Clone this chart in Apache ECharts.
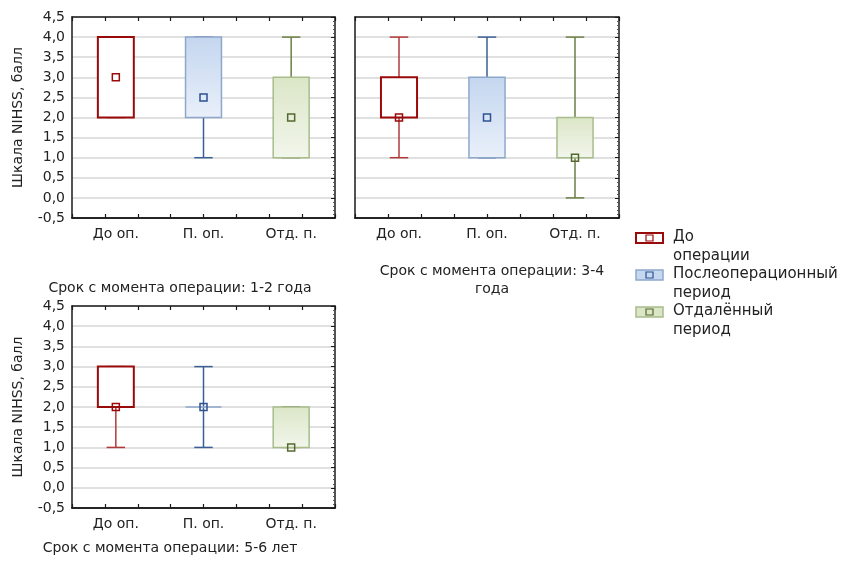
<!DOCTYPE html>
<html>
<head>
<meta charset="utf-8">
<script src="https://cdn.jsdelivr.net/npm/echarts@6/dist/echarts.min.js"></script>
<style>
  html, body { margin: 0; padding: 0; background: #fff; }
  #chart { width: 858px; height: 564px; }
</style>
</head>
<body>
<div id="chart"></div>
<script>
// категории и значения: [min, q1, медиана, q3, max]
var categories = ['До оп.', 'П. оп.', 'Отд. п.'];
var box12 = [[2, 2, 3, 4, 4], [1, 2, 2.5, 4, 4], [1, 1, 2, 3, 4]];
var box34 = [[1, 2, 2, 3, 4], [1, 1, 2, 3, 4], [0, 1, 1, 2, 4]];
var box56 = [[1, 2, 2, 3, 3], [1, 2, 2, 2, 3], [1, 1, 1, 2, 2]];
var titles = ['Срок с момента операции: 1-2 года', 'Срок с момента операции: 3-4\nгода', 'Срок с момента операции: 5-6 лет'];
var legendNames = ['До\nоперации', 'Послеоперационный\nпериод', 'Отдалённый\nпериод'];

var FONT = 'DejaVu Sans';

// стили для групп
var styles = [
  { border: '#990a0a', borderW: 2, fill: '#ffffff', whisker: '#b03a3a', mark: '#990a0a' },
  { border: '#8ea8cc', borderW: 1.5,
    fill: { type: 'linear', x: 0, y: 0, x2: 0, y2: 1, colorStops: [{ offset: 0, color: '#c4d6ef' }, { offset: 1, color: '#e9f0fa' }] },
    whisker: '#3a5f94', mark: '#2c5290' },
  { border: '#a8bc8c', borderW: 1.5,
    fill: { type: 'linear', x: 0, y: 0, x2: 0, y2: 1, colorStops: [{ offset: 0, color: '#dbe6c7' }, { offset: 1, color: '#f2f6ec' }] },
    whisker: '#6b7f45', mark: '#54692c' }
];

var grids = [
  { left: 72, top: 17, width: 263, height: 201 },
  { left: 355, top: 17, width: 264, height: 201 },
  { left: 72, top: 306, width: 263, height: 202 }
];
var boxes = [box12, box34, box56];

function renderBox(params, api) {
  var i = api.value(0);
  var s = styles[i];
  var xc = api.coord([i, 0])[0];
  var yMin = api.coord([i, api.value(1)])[1];
  var yQ1 = api.coord([i, api.value(2)])[1];
  var yMed = api.coord([i, api.value(3)])[1];
  var yQ3 = api.coord([i, api.value(4)])[1];
  var yMax = api.coord([i, api.value(5)])[1];
  var band = api.size([1, 0])[0];
  var bw = band * 0.41, cw = band * 0.21;
  var lineStyle = { stroke: s.whisker, lineWidth: 1.5 };
  return {
    type: 'group',
    children: [
      { type: 'line', shape: { x1: xc, y1: yMin, x2: xc, y2: yMax }, style: lineStyle },
      { type: 'line', shape: { x1: xc - cw / 2, y1: yMin, x2: xc + cw / 2, y2: yMin }, style: lineStyle },
      { type: 'line', shape: { x1: xc - cw / 2, y1: yMax, x2: xc + cw / 2, y2: yMax }, style: lineStyle },
      { type: 'rect', shape: { x: xc - bw / 2, y: yQ3, width: bw, height: yQ1 - yQ3 },
        style: { fill: s.fill, stroke: s.border, lineWidth: s.borderW } },
      { type: 'line', shape: { x1: xc, y1: yQ3, x2: xc, y2: yQ1 }, invisible: yQ1 !== yQ3, style: lineStyle },
      { type: 'rect', shape: { x: xc - 3.5, y: yMed - 3.5, width: 7, height: 7 },
        style: { fill: 'none', stroke: s.mark, lineWidth: 1.5 } }
    ]
  };
}

// ось-рамка со штрихами (шаг 1/8 ширины)
function frameAxis(k, pos) {
  return {
    type: 'value', gridIndex: k, min: 0, max: 8, interval: 1, position: pos,
    axisLine: { show: true, onZero: false, lineStyle: { color: '#1a1a1a', width: 1.5 } },
    axisTick: { show: true, inside: true, length: 4, lineStyle: { color: '#1a1a1a', width: 1.2 } },
    axisLabel: { show: false },
    splitLine: { show: false }
  };
}

var xAxes = [], yAxes = [], series = [];
grids.forEach(function (g, k) {
  // основная ось категорий
  xAxes.push({
    type: 'category', gridIndex: k, data: categories, position: 'bottom',
    axisLine: { show: true, onZero: false, lineStyle: { color: '#1a1a1a', width: 1.5 } },
    axisTick: { show: false },
    axisLabel: { fontFamily: FONT, fontSize: 14, color: '#222', margin: 9 }
  });
  xAxes.push(frameAxis(k, 'bottom'));
  xAxes.push(frameAxis(k, 'top'));
  yAxes.push({
    type: 'value', gridIndex: k, min: -0.5, max: 4.5, interval: 0.5, position: 'left',
    name: k === 1 ? '' : 'Шкала NIHSS, балл', nameLocation: 'middle', nameGap: 47,
    nameTextStyle: { fontFamily: FONT, fontSize: 14, color: '#222' },
    axisLine: { show: true, onZero: false, lineStyle: { color: '#1a1a1a', width: 1.5 } },
    axisTick: { show: false },
    axisLabel: {
      show: k !== 1, fontFamily: FONT, fontSize: 14, color: '#222', margin: 7,
      formatter: function (v) { return v.toFixed(1).replace('.', ','); }
    },
    splitLine: { show: true, lineStyle: { color: '#d6d6d6', width: 1.5 } }
  });
  // правая рамка
  yAxes.push({
    type: 'value', gridIndex: k, min: -0.5, max: 4.5, interval: 0.5, position: 'right',
    axisLine: { show: true, onZero: false, lineStyle: { color: '#1a1a1a', width: 1.5 } },
    axisTick: { show: true, inside: true, length: 4, lineStyle: { color: '#1a1a1a' } },
    minorTick: { show: true, splitNumber: 5, length: 2, lineStyle: { color: '#555' } },
    axisLabel: { show: false },
    splitLine: { show: false }
  });
  series.push({
    type: 'custom', xAxisIndex: k * 3, yAxisIndex: k * 2,
    renderItem: renderBox,
    data: boxes[k].map(function (b, i) { return [i].concat(b); })
  });
});

// легенда
var legendColors = [
  { fill: '#ffffff', stroke: '#990a0a', w: 2 },
  { fill: '#c6d8f0', stroke: '#8ea8cc', w: 1.5 },
  { fill: '#dbe6c6', stroke: '#a8bc8c', w: 1.5 }
];
var legendGraphic = [];
legendNames.forEach(function (name, i) {
  var top = 233 + i * 37;
  var c = legendColors[i];
  legendGraphic.push({
    type: 'rect', shape: { x: 636, y: top, width: 27, height: 10 },
    style: { fill: c.fill, stroke: c.stroke, lineWidth: c.w }
  });
  legendGraphic.push({
    type: 'rect', shape: { x: 646, y: top + 2, width: 7, height: 6 },
    style: { fill: 'none', stroke: styles[i].mark, lineWidth: 1.2 }
  });
  legendGraphic.push({
    type: 'text', x: 673, y: top - 5,
    style: { text: name, font: '15px "' + FONT + '"', fill: '#222', lineHeight: 19 }
  });
});

var myChart = echarts.init(document.getElementById('chart'));
myChart.setOption({
  backgroundColor: '#fff',
  animation: false,
  title: [
    { text: titles[0], left: 175, top: 276, textAlign: 'center',
      textStyle: { fontFamily: FONT, fontSize: 14, fontWeight: 'normal', color: '#222' } },
    { text: titles[1], left: 487, top: 257, textAlign: 'center',
      textStyle: { fontFamily: FONT, fontSize: 14, fontWeight: 'normal', color: '#222', lineHeight: 18 } },
    { text: titles[2], left: 165, top: 536, textAlign: 'center',
      textStyle: { fontFamily: FONT, fontSize: 14, fontWeight: 'normal', color: '#222' } }
  ],
  grid: grids,
  xAxis: xAxes,
  yAxis: yAxes,
  series: series,
  graphic: legendGraphic
});
</script>
</body>
</html>
